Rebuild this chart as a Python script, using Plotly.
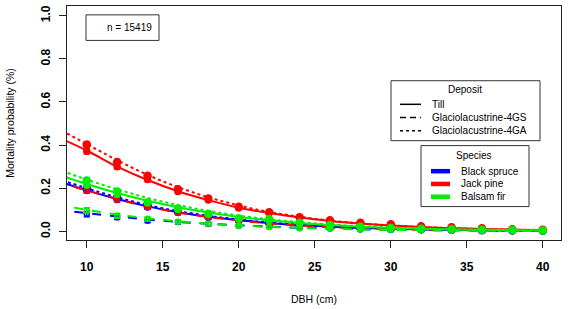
import plotly.graph_objects as go

# ---------------- data ----------------
dbh_curve = [8, 10, 12, 14, 16, 18, 20, 22, 24, 26, 28, 30, 32, 34, 36, 38, 40]
dbh_pts = [10, 12, 14, 16, 18, 20, 22, 24, 26, 28, 30, 32, 34, 36, 38, 40]

# fitted curves (species x deposit)
bs_till = [0.235, 0.19, 0.15, 0.116, 0.089, 0.068, 0.052, 0.039, 0.029, 0.022, 0.016, 0.012, 0.009, 0.007, 0.005, 0.004, 0.003]
bs_4gs = [0.100, 0.085, 0.069, 0.055, 0.044, 0.035, 0.028, 0.022, 0.017, 0.013, 0.010, 0.008, 0.006, 0.005, 0.004, 0.003, 0.002]
bs_4ga = [0.245, 0.20, 0.158, 0.122, 0.094, 0.072, 0.055, 0.041, 0.031, 0.023, 0.017, 0.013, 0.010, 0.007, 0.005, 0.004, 0.003]
jp_till = [0.44, 0.375, 0.30, 0.238, 0.186, 0.145, 0.11, 0.085, 0.064, 0.048, 0.036, 0.027, 0.020, 0.015, 0.011, 0.008, 0.006]
jp_4gs = [0.23, 0.19, 0.15, 0.115, 0.088, 0.067, 0.050, 0.037, 0.027, 0.020, 0.015, 0.011, 0.008, 0.006, 0.004, 0.003, 0.002]
jp_4ga = [0.48, 0.405, 0.33, 0.262, 0.205, 0.158, 0.12, 0.090, 0.068, 0.050, 0.037, 0.028, 0.020, 0.015, 0.011, 0.008, 0.006]
bf_till = [0.265, 0.22, 0.178, 0.142, 0.112, 0.087, 0.067, 0.051, 0.039, 0.029, 0.022, 0.016, 0.012, 0.009, 0.007, 0.005, 0.004]
bf_4gs = [0.125, 0.10, 0.078, 0.061, 0.047, 0.036, 0.028, 0.021, 0.016, 0.012, 0.009, 0.007, 0.005, 0.004, 0.003, 0.002, 0.002]
bf_4ga = [0.29, 0.24, 0.195, 0.155, 0.122, 0.095, 0.073, 0.056, 0.043, 0.032, 0.024, 0.018, 0.013, 0.010, 0.008, 0.006, 0.004]

# observed points (mean mortality per 2-cm class)
bs_till_pts = [0.19, 0.148, 0.113, 0.088, 0.066, 0.050, 0.038, 0.028, 0.021, 0.012, 0.011, 0.009, 0.007, 0.005, 0.004, 0.003]
bs_4gs_pts = [0.080, 0.066, 0.050, 0.043, 0.034, 0.026, 0.022, 0.016, 0.013, 0.010, 0.008, 0.006, 0.005, 0.004, 0.003, 0.002]
bs_4ga_pts = [0.20, 0.156, 0.120, 0.092, 0.070, 0.054, 0.040, 0.030, 0.022, 0.016, 0.012, 0.010, 0.007, 0.005, 0.004, 0.003]
jp_till_pts = [0.371, 0.300, 0.240, 0.185, 0.146, 0.108, 0.086, 0.064, 0.047, 0.037, 0.028, 0.020, 0.015, 0.011, 0.008, 0.006]
jp_4gs_pts = [0.19, 0.148, 0.113, 0.086, 0.065, 0.050, 0.036, 0.027, 0.020, 0.015, 0.011, 0.008, 0.006, 0.004, 0.003, 0.002]
jp_4ga_pts = [0.403, 0.322, 0.258, 0.195, 0.152, 0.114, 0.089, 0.066, 0.051, 0.040, 0.033, 0.024, 0.019, 0.015, 0.010, 0.008]
bf_till_pts = [0.215, 0.172, 0.135, 0.108, 0.083, 0.062, 0.050, 0.037, 0.028, 0.021, 0.016, 0.012, 0.009, 0.007, 0.005, 0.004]
bf_4gs_pts = [0.097, 0.072, 0.058, 0.045, 0.035, 0.026, 0.020, 0.015, 0.012, 0.009, 0.007, 0.005, 0.004, 0.003, 0.002, 0.002]
bf_4ga_pts = [0.236, 0.185, 0.134, 0.104, 0.081, 0.058, 0.057, 0.040, 0.030, 0.022, 0.016, 0.012, 0.010, 0.008, 0.006, 0.004]

# half-width of error bars
err_pts = [0.012, 0.011, 0.010, 0.009, 0.008, 0.007, 0.006, 0.005, 0.005, 0.004, 0.004, 0.003, 0.003, 0.003, 0.002, 0.002]

species = ["Black spruce", "Jack pine", "Balsam fir"]
deposits = ["Till", "Glaciolacustrine-4GS", "Glaciolacustrine-4GA"]
sample_n = "n = 15419"

# ---------------- styling ----------------
colors = {"Black spruce": "#0000ff", "Jack pine": "#ff0000", "Balsam fir": "#00ee00"}
dashes = {"Till": "solid", "Glaciolacustrine-4GS": "dash", "Glaciolacustrine-4GA": "dot"}
msym = {"Till": "circle", "Glaciolacustrine-4GS": "circle-open", "Glaciolacustrine-4GA": "circle"}
msize = {"Till": 6, "Glaciolacustrine-4GS": 5, "Glaciolacustrine-4GA": 7}

curves = {
    "Black spruce": [bs_till, bs_4gs, bs_4ga],
    "Jack pine": [jp_till, jp_4gs, jp_4ga],
    "Balsam fir": [bf_till, bf_4gs, bf_4ga],
}
points = {
    "Black spruce": [bs_till_pts, bs_4gs_pts, bs_4ga_pts],
    "Jack pine": [jp_till_pts, jp_4gs_pts, jp_4ga_pts],
    "Balsam fir": [bf_till_pts, bf_4gs_pts, bf_4ga_pts],
}

FONT = "Liberation Sans, Arial, sans-serif"
fig = go.Figure()

for sp in species:
    col = colors[sp]
    for i, dep in enumerate(deposits):
        fig.add_trace(go.Scatter(
            x=dbh_curve, y=curves[sp][i], mode="lines",
            line=dict(color=col, width=2, dash=dashes[dep], shape="spline"),
            showlegend=False, hoverinfo="skip"))
        fig.add_trace(go.Scatter(
            x=dbh_pts, y=points[sp][i], mode="markers",
            marker=dict(color=col, size=msize[dep], symbol=msym[dep],
                        line=dict(color=col, width=1.5)),
            error_y=dict(type="data", array=err_pts, color=col, thickness=1.5, width=3),
            showlegend=False, hoverinfo="skip"))

# ---------------- layout ----------------
W, H = 570, 309
L, R, T, B = 67, 9, 5, 66
pw, ph = W - L - R, H - T - B


def px(x):
    return (x - L) / pw


def py(y):
    return (H - B - y) / ph


shapes = []
annotations = []

# n box
shapes.append(dict(type="rect", xref="paper", yref="paper", x0=px(86), x1=px(159), y0=py(40), y1=py(14),
                   line=dict(color="#333333", width=1)))
annotations.append(dict(xref="paper", yref="paper", x=px(129), y=py(27), text=sample_n, showarrow=False,
                        font=dict(size=10, color="black", family=FONT), xanchor="center", yanchor="middle"))

# Deposit legend
shapes.append(dict(type="rect", xref="paper", yref="paper", x0=px(391), x1=px(540), y0=py(142), y1=py(81),
                   line=dict(color="#333333", width=1), fillcolor="white"))
annotations.append(dict(xref="paper", yref="paper", x=px(465), y=py(90), text="Deposit", showarrow=False,
                        font=dict(size=10, color="black", family=FONT), xanchor="center", yanchor="middle"))
for k, dep in enumerate(deposits):
    yy = 105 + k * 13.5
    shapes.append(dict(type="line", xref="paper", yref="paper", x0=px(400), x1=px(421), y0=py(yy), y1=py(yy),
                       line=dict(color="black", width=1.5, dash=dashes[dep] if dep != "Glaciolacustrine-4GS" else "6px,4px")))
    annotations.append(dict(xref="paper", yref="paper", x=px(430), y=py(yy), text=dep, showarrow=False,
                            font=dict(size=10, color="black", family=FONT), xanchor="left", yanchor="middle"))

# Species legend
shapes.append(dict(type="rect", xref="paper", yref="paper", x0=px(421), x1=px(529), y0=py(209), y1=py(147),
                   line=dict(color="#333333", width=1), fillcolor="white"))
annotations.append(dict(xref="paper", yref="paper", x=px(474), y=py(157), text="Species", showarrow=False,
                        font=dict(size=10, color="black", family=FONT), xanchor="center", yanchor="middle"))
for k, sp in enumerate(species):
    yy = 173 + k * 13
    shapes.append(dict(type="line", xref="paper", yref="paper", x0=px(431), x1=px(450), y0=py(yy), y1=py(yy),
                       line=dict(color=colors[sp], width=4.5)))
    annotations.append(dict(xref="paper", yref="paper", x=px(459), y=py(yy), text=sp, showarrow=False,
                            font=dict(size=10, color="black", family=FONT), xanchor="left", yanchor="middle"))

fig.update_layout(
    width=W, height=H,
    margin=dict(l=L, r=R, t=T, b=B, pad=0),
    paper_bgcolor="white", plot_bgcolor="white",
    font=dict(family=FONT, color="black"),
    shapes=shapes, annotations=annotations,
    showlegend=False,
)
fig.update_xaxes(
    range=[8.7, 41.2], tickvals=[10, 15, 20, 25, 30, 35, 40],
    showgrid=False, zeroline=False, showline=True, mirror=True, linecolor="#222222", linewidth=1,
    ticks="outside", ticklen=7, tickcolor="#222222", ticklabelstandoff=9,
    tickfont=dict(size=12, family=FONT, weight="bold"),
    title=dict(text="DBH (cm)", font=dict(size=10.5, family=FONT), standoff=22),
)
fig.update_yaxes(
    range=[-0.04, 1.045], tickvals=[0, 0.2, 0.4, 0.6, 0.8, 1.0], tickformat=".1f",
    showgrid=False, zeroline=False, showline=True, mirror=True, linecolor="#222222", linewidth=1,
    ticks="outside", ticklen=7, tickcolor="#222222", tickangle=-90, ticklabelstandoff=4,
    tickfont=dict(size=12, family=FONT, weight="bold"),
    title=dict(text="Mortality probability (%)", font=dict(size=10.5, family=FONT), standoff=22),
)

fig.write_html("out.html")
